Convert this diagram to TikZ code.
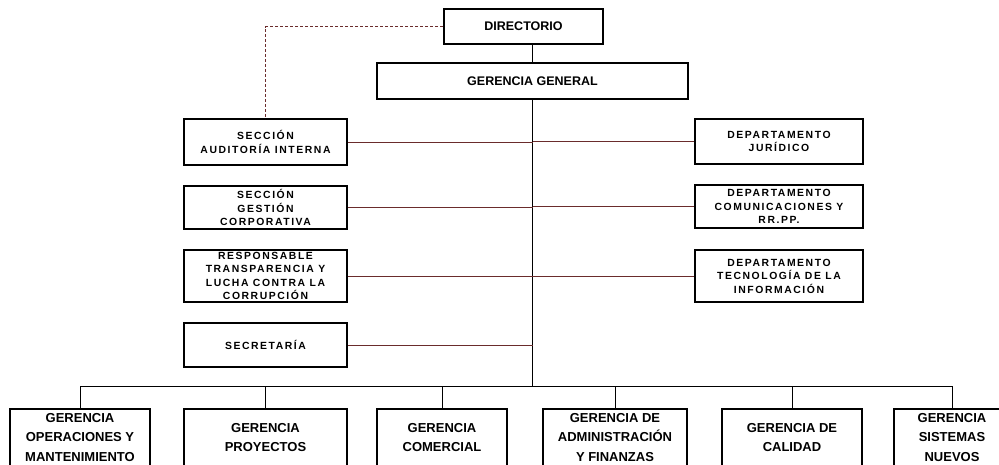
\documentclass[tikz,border=0pt]{standalone}
\usepackage{fontspec}
\setmainfont{Liberation Sans}
\newfontfamily\spaced[LetterSpace=15]{Liberation Sans}
\usepackage{xcolor}
\definecolor{linkred}{HTML}{6A2C2C}
\usepackage{tikz}

\begin{document}
\begin{tikzpicture}[x=1pt,y=-1pt,
  box/.style={draw,line width=1.8pt,inner sep=0pt,align=center},
  topbox/.style={box,font=\bfseries\fontsize{12.5}{15}\selectfont},
  sidebox/.style={box,font=\spaced\bfseries\fontsize{10.4}{13.5}\selectfont},
  lowbox/.style={box,anchor=north,minimum height=57pt,font=\bfseries\fontsize{13}{19.5}\selectfont},
  link/.style={linkred,line width=1pt},
  tree/.style={black,line width=0.8pt}]

\clip (0,0) rectangle (999,464);

% top
\node[topbox,minimum width=159pt,minimum height=35pt] (dir) at (523.5,26.5) {DIRECTORIO};
\node[topbox,minimum width=311pt,minimum height=36pt] (gg) at (532.5,81) {GERENCIA GENERAL};

% staff units left
\node[sidebox,minimum width=163pt,minimum height=46pt] (aud) at (265.5,142) {SECCIÓN\\AUDITORÍA INTERNA};
\node[sidebox,minimum width=163pt,minimum height=43pt] (gest) at (265.5,207.5) {SECCIÓN\\GESTIÓN\\CORPORATIVA};
\node[sidebox,minimum width=163pt,minimum height=52pt] (resp) at (265.5,276) {RESPONSABLE\\TRANSPARENCIA Y\\LUCHA CONTRA LA\\CORRUPCIÓN};
\node[sidebox,minimum width=163pt,minimum height=44pt] (secr) at (265.5,345) {SECRETARÍA};

% staff units right
\node[sidebox,minimum width=168pt,minimum height=45pt] (jur) at (779,141.5) {DEPARTAMENTO\\JURÍDICO};
\node[sidebox,minimum width=168pt,minimum height=43pt] (com) at (779,206.5) {DEPARTAMENTO\\COMUNICACIONES Y\\RR.PP.};
\node[sidebox,minimum width=168pt,minimum height=52pt] (tec) at (779,276) {DEPARTAMENTO\\TECNOLOGÍA DE LA\\INFORMACIÓN};

% line managements
\node[lowbox,minimum width=140pt] (ope) at (80,408) {GERENCIA\\OPERACIONES Y\\MANTENIMIENTO};
\node[lowbox,minimum width=163pt] (pro) at (265.5,408) {GERENCIA\\PROYECTOS};
\node[lowbox,minimum width=130pt] (comer) at (442,408) {GERENCIA\\COMERCIAL};
\node[lowbox,minimum width=144pt] (adm) at (615,408) {GERENCIA DE\\ADMINISTRACIÓN\\Y FINANZAS};
\node[lowbox,minimum width=140pt] (cal) at (792,408) {GERENCIA DE\\CALIDAD};
\node[lowbox,minimum width=116pt] (sis) at (952,408) {GERENCIA\\SISTEMAS\\NUEVOS};

\coordinate (bus) at (532.5,386);

\draw[tree] (gg.north) -- (gg.north |- dir.south);
\draw[tree] (gg.south) -- (bus);
\draw[link,dash pattern=on 3pt off 2pt] (dir.west) -| (aud.north);

\foreach \n in {aud,gest,resp,secr}
  \draw[link] (\n.east) -- (\n.east -| gg.south);
\foreach \n in {jur,com,tec}
  \draw[link] (\n.west) -- (\n.west -| gg.south);

\draw[tree] (ope.north |- bus) -- (sis.north |- bus);
\foreach \n in {ope,pro,comer,adm,cal,sis}
  \draw[tree] (\n.north) -- (\n.north |- bus);
\end{tikzpicture}
\end{document}
